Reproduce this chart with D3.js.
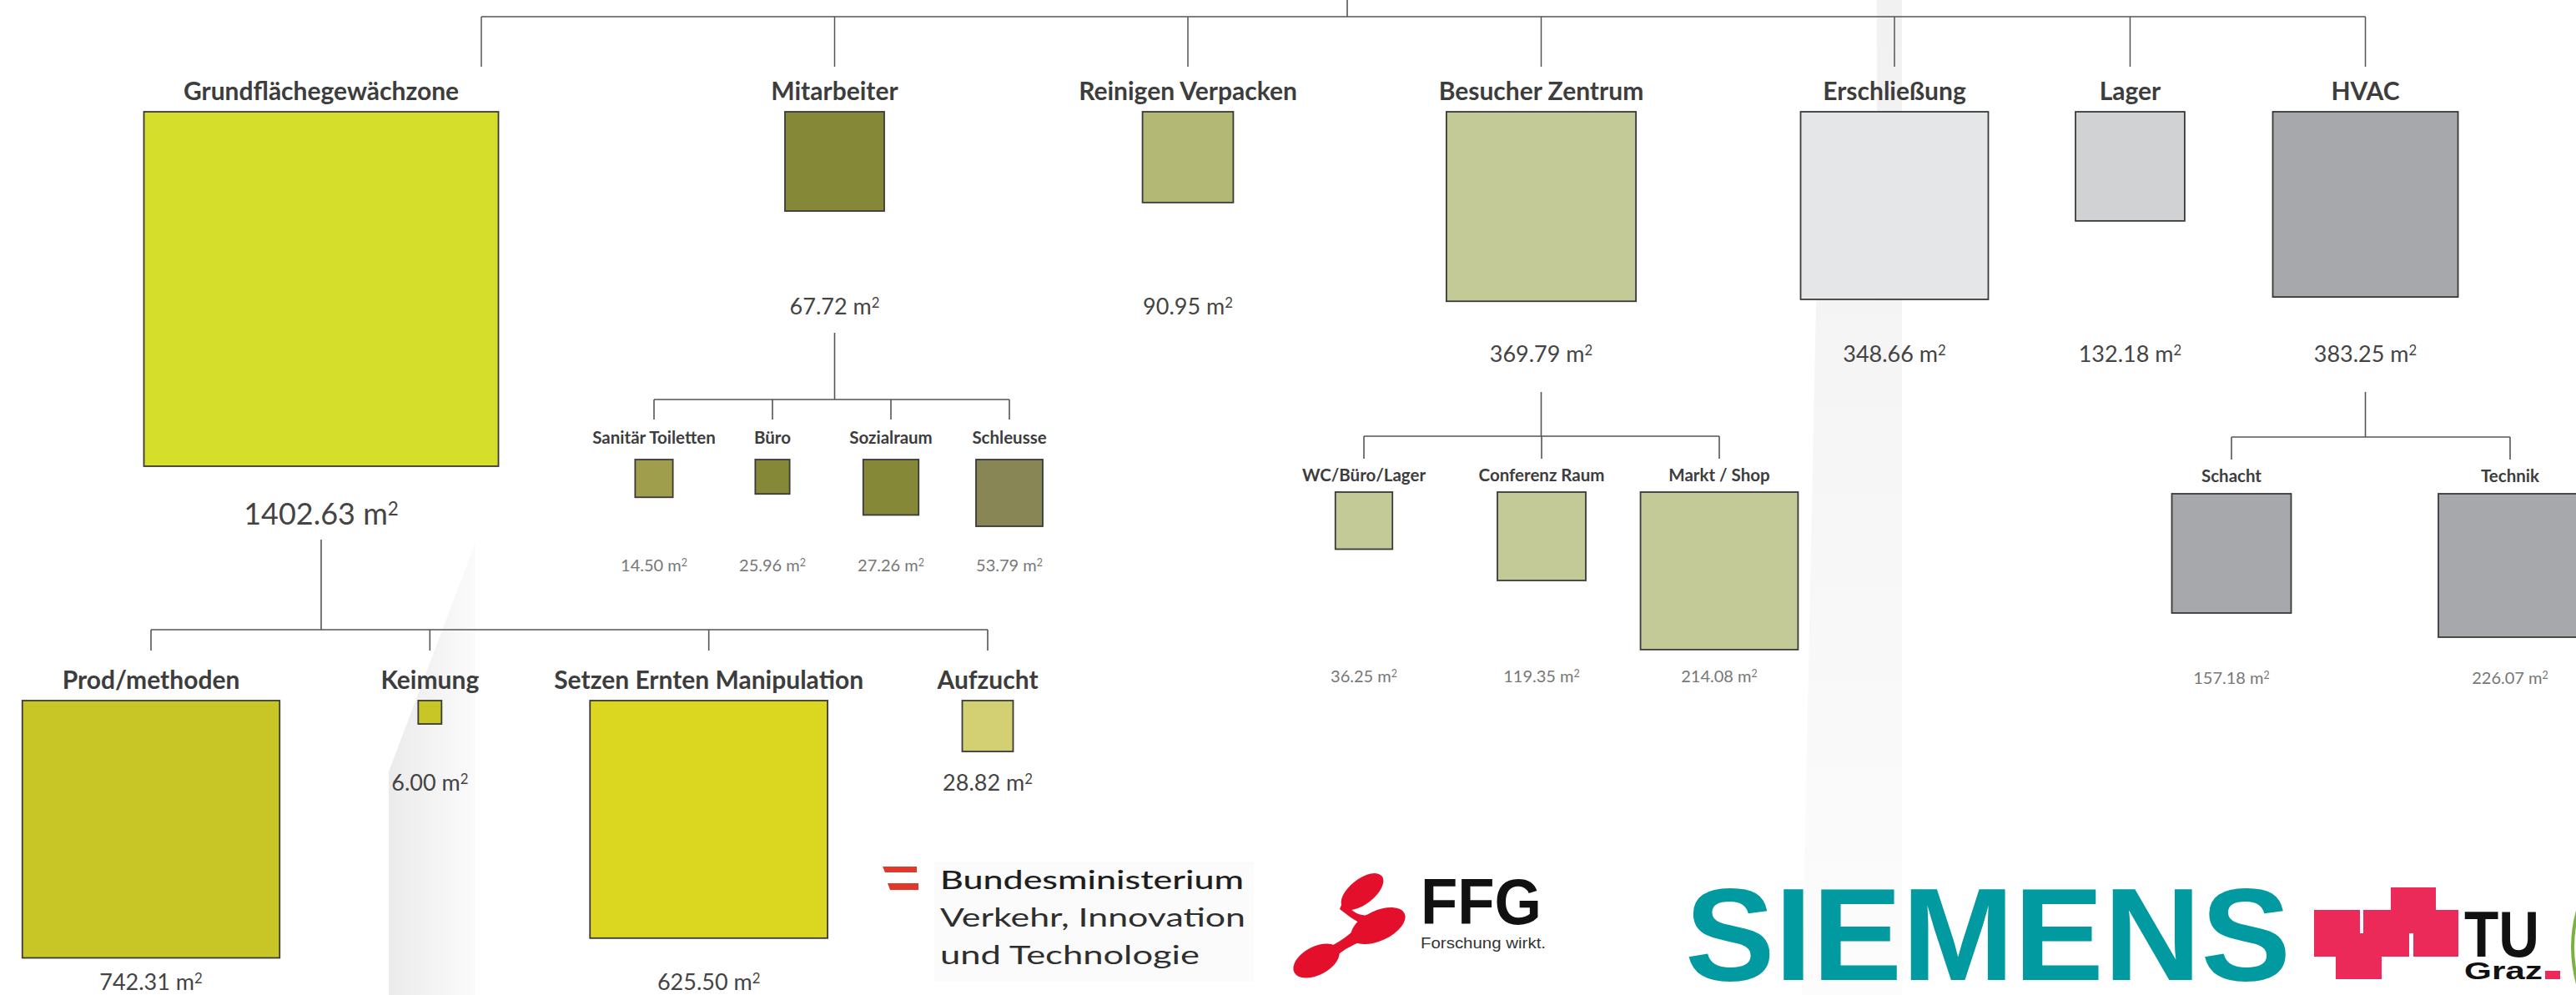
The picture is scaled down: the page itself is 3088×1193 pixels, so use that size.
<!DOCTYPE html>
<html>
<head>
<meta charset="utf-8">
<script src="https://cdn.jsdelivr.net/npm/d3@7"></script>
<style>
  body { margin: 0; background: #fff; }
  svg { display: block; font-family: Lato, "Source Sans Pro", "Open Sans", sans-serif; }
</style>
</head>
<body>
<svg></svg>
<script>
// ---- data (m²) ----
// top level rooms
const groupNames  = ["Grundflächegewächzone", "Mitarbeiter", "Reinigen Verpacken", "Besucher Zentrum", "Erschließung", "Lager", "HVAC"];
const groupValues = [1402.63, 67.72, 90.95, 369.79, 348.66, 132.18, 383.25];
// area the square actually shows in the picture (not always equal to the label)
const groupShown  = [1402.63, 110.0, 92.0, 401.0, 393.0, 133.0, 383.0];
const groupColors = ["#d5de2b", "#858837", "#b3b874", "#c3ca98", "#e5e6e8", "#d1d2d4", "#a7a8ab"];

// Grundflächegewächzone
const grundNames  = ["Prod/methoden", "Keimung", "Setzen Ernten Manipulation", "Aufzucht"];
const grundValues = [742.31, 6.00, 625.50, 28.82];
const grundShown  = [739.0, 6.1, 630.0, 28.9];
const grundColors = ["#c8c626", "#c8c626", "#dbd61f", "#d3cf73"];

// Mitarbeiter
const mitNames  = ["Sanitär Toiletten", "Büro", "Sozialraum", "Schleusse"];
const mitValues = [14.50, 25.96, 27.26, 53.79];
const mitShown  = [15.9, 13.2, 34.3, 49.7];
const mitColors = ["#9f9e4c", "#858837", "#858837", "#898656"];

// Besucher Zentrum
const besNames  = ["WC/Büro/Lager", "Conferenz Raum", "Markt / Shop"];
const besValues = [36.25, 119.35, 214.08];
const besShown  = [36.4, 87.2, 277.0];
const besColors = ["#c3ca98", "#c3ca98", "#c3ca98"];

// HVAC
const hvacNames  = ["Schacht", "Technik"];
const hvacValues = [157.18, 226.07];
const hvacShown  = [158.8, 229.7];
const hvacColors = ["#a7a8ab", "#a7a8ab"];

// ---- layout ----
const width = 3088, height = 1193;
const svg = d3.select("svg").attr("width", width).attr("height", height);

// square side from area
const side = d3.scaleSqrt().domain([0, 1402.63]).range([0, 425]);

// top level columns (last two use a narrower step)
const colSlot = [0, 1, 2, 3, 4, 4.667, 5.333];
const xTop = d3.scaleLinear().domain([0, 4]).range([577, 2271]);
const rootX = 1615;
// the first node sits left of its drop line
const grundCenterX = 385;

const lineColor = "#555";

// faint background sheen (from the photo behind the chart)
const defs = svg.append("defs");
const sheen = defs.append("linearGradient").attr("id", "sheen").attr("x1", "0%").attr("x2", "100%");
sheen.append("stop").attr("offset", "0%").attr("stop-color", "#ebebeb");
sheen.append("stop").attr("offset", "100%").attr("stop-color", "#fbfbfb");
const sheenV = defs.append("linearGradient").attr("id", "sheenV").attr("x1", "0%").attr("x2", "0%").attr("y2", "100%");
sheenV.append("stop").attr("offset", "0%").attr("stop-color", "#f1f1f1");
sheenV.append("stop").attr("offset", "100%").attr("stop-color", "#fcfcfc");

const bg = svg.append("g");
bg.append("path").attr("d", "M570,650 L466,925 L466,1193 L570,1193 Z").attr("fill", "url(#sheen)");
bg.append("path").attr("d", "M2250,0 L2280,0 L2280,1193 L2160,1193 L2177,360 L2250,360 Z").attr("fill", "url(#sheenV)");

const chart = svg.append("g");

function line(x1, y1, x2, y2, w) {
  chart.append("line")
    .attr("x1", x1).attr("y1", y1).attr("x2", x2).attr("y2", y2)
    .attr("stroke", lineColor).attr("stroke-width", w || 1.6);
}

// bracket: stem from parent, horizontal bus, drops to children
function bracket(px, y0, busY, xs, dropY) {
  line(px, y0, px, busY);
  line(d3.min(xs), busY, d3.max(xs), busY);
  xs.forEach(x => line(x, busY, x, dropY));
}

function nodes(items, o) {
  const g = chart.append("g");
  g.selectAll(".name").data(items).enter().append("text")
    .attr("x", d => d.x).attr("y", o.nameY)
    .attr("text-anchor", "middle")
    .attr("font-size", o.nameSize).attr("font-weight", 700)
    .attr("fill", "#3d3d3d")
    .text(d => d.name);

  g.selectAll(".box").data(items).enter().append("rect")
    .attr("x", d => d.x - side(d.shown) / 2)
    .attr("y", o.boxY)
    .attr("width", d => side(d.shown))
    .attr("height", d => side(d.shown))
    .attr("fill", d => d.color)
    .attr("stroke", "#3a3a3a").attr("stroke-width", 1.8);

  const val = g.selectAll(".val").data(items).enter().append("text")
    .attr("x", d => d.x).attr("y", d => d.valueY)
    .attr("text-anchor", "middle")
    .attr("font-size", d => d.valueSize || o.valueSize)
    .attr("font-weight", o.valueWeight)
    .attr("fill", o.valueColor);
  val.append("tspan").text(d => d.value.toFixed(2) + " m");
  val.append("tspan").attr("dy", "-0.5em").attr("font-size", "0.62em").text("2");
}

function pack(names, values, shown, colors, xs, extra) {
  return names.map((n, i) => Object.assign({ name: n, value: values[i], shown: shown[i], color: colors[i], x: xs[i] }, extra ? extra(i) : {}));
}

// ---- top level ----
const dropX = colSlot.map(s => xTop(s));
const topX = dropX.map((x, i) => i === 0 ? grundCenterX : x);
line(rootX, 0, rootX, 20);
line(d3.min(dropX), 20, d3.max(dropX), 20);
dropX.forEach(x => line(x, 20, x, 80, 1.5));

const topValueY = [629, 377, 377, 434, 434, 434, 434];
nodes(pack(groupNames, groupValues, groupShown, groupColors, topX,
           i => ({ valueY: topValueY[i], valueSize: i === 0 ? 36 : 27 })),
      { nameY: 120, nameSize: 30, boxY: 134, valueSize: 27, valueWeight: 400, valueColor: "#444" });

// ---- Grundflächegewächzone children ----
const grundX = d3.range(grundNames.length).map(d3.scaleLinear().domain([0, 3]).range([181, 1184]));
bracket(topX[0], 647, 755, grundX, 780);
const grundValueY = [1187, 948, 1187, 948];
nodes(pack(grundNames, grundValues, grundShown, grundColors, grundX, i => ({ valueY: grundValueY[i] })),
      { nameY: 826, nameSize: 30, boxY: 840, valueSize: 27, valueWeight: 400, valueColor: "#444" });

// ---- Mitarbeiter children ----
const mitX = d3.range(mitNames.length).map(d3.scaleLinear().domain([0, 3]).range([784, 1210]));
bracket(topX[1], 399, 479, mitX, 503);
nodes(pack(mitNames, mitValues, mitShown, mitColors, mitX, () => ({ valueY: 685 })),
      { nameY: 532, nameSize: 20.5, boxY: 551, valueSize: 20, valueWeight: 400, valueColor: "#777" });

// ---- Besucher Zentrum children ----
const besX = d3.range(besNames.length).map(d3.scaleLinear().domain([0, 2]).range([1635, 2061]));
bracket(topX[3], 470, 523, besX, 550);
nodes(pack(besNames, besValues, besShown, besColors, besX, () => ({ valueY: 818 })),
      { nameY: 577, nameSize: 20.5, boxY: 590, valueSize: 20, valueWeight: 400, valueColor: "#777" });

// ---- HVAC children ----
const hvacX = d3.range(hvacNames.length).map(d3.scaleLinear().domain([0, 1]).range([2675, 3009]));
bracket(topX[6], 470, 524, hvacX, 551);
nodes(pack(hvacNames, hvacValues, hvacShown, hvacColors, hvacX, () => ({ valueY: 820 })),
      { nameY: 578, nameSize: 20.5, boxY: 592, valueSize: 20, valueWeight: 400, valueColor: "#777" });

// ---- sponsor logos ----
const logos = svg.append("g");

// Bundesministerium
logos.append("rect").attr("x", 1120).attr("y", 1033).attr("width", 383).attr("height", 144).attr("fill", "#fbfbfb");
logos.append("path").attr("d", "M1058,1039 L1099,1039 L1099,1046 L1061,1046 Z").attr("fill", "#e0392b");
logos.append("path").attr("d", "M1064,1059 L1101,1059 L1101,1067 L1067,1067 Z").attr("fill", "#e0392b");
const bm = [["Bundesministerium", 1066, 364, 500, "#1e1e1e"],
            ["Verkehr, Innovation", 1111, 366, 400, "#2e2e2e"],
            ["und Technologie", 1156, 311, 400, "#2e2e2e"]];
logos.selectAll(".bm").data(bm).enter().append("text")
  .attr("x", 1127).attr("y", d => d[1])
  .attr("font-size", 30).attr("font-weight", d => d[3]).attr("fill", d => d[4])
  .attr("textLength", d => d[2]).attr("lengthAdjust", "spacingAndGlyphs")
  .text(d => d[0]);

// FFG
const ffg = logos.append("g").attr("fill", "#e4102b");
ffg.append("ellipse").attr("cx", 1633).attr("cy", 1069).attr("rx", 30).attr("ry", 15).attr("transform", "rotate(-38 1633 1069)");
ffg.append("ellipse").attr("cx", 1652).attr("cy", 1110).attr("rx", 35).attr("ry", 18).attr("transform", "rotate(-25 1652 1110)");
ffg.append("ellipse").attr("cx", 1578).attr("cy", 1152).attr("rx", 30).attr("ry", 17).attr("transform", "rotate(-28 1578 1152)");
ffg.append("path").attr("d", "M1610,1080 Q1625,1100 1640,1097 L1632,1108 Q1618,1100 1606,1090 Z");
ffg.append("path").attr("d", "M1620,1118 L1634,1128 Q1612,1136 1598,1150 L1588,1138 Q1606,1130 1620,1118 Z");
logos.append("text").attr("x", 1703).attr("y", 1108)
  .attr("font-family", "Liberation Sans, Arial, sans-serif").attr("font-weight", 700).attr("font-size", 78)
  .attr("textLength", 145).attr("lengthAdjust", "spacingAndGlyphs").attr("fill", "#111").text("FFG");
logos.append("text").attr("x", 1703).attr("y", 1137)
  .attr("font-family", "Liberation Sans, Arial, sans-serif").attr("font-size", 18)
  .attr("textLength", 150).attr("lengthAdjust", "spacingAndGlyphs").attr("fill", "#333").text("Forschung wirkt.");

// SIEMENS
logos.append("text").attr("x", 2020).attr("y", 1175)
  .attr("font-family", "Liberation Sans, Arial, sans-serif").attr("font-weight", 700).attr("font-size", 158)
  .attr("textLength", 726).attr("lengthAdjust", "spacingAndGlyphs").attr("fill", "#009aa0").text("SIEMENS");

// TU Graz
const tuBlocks = [[2774, 1091, 2829, 1147], [2833, 1091, 2947, 1119], [2829, 1119, 2888, 1147],
                  [2893, 1119, 2947, 1147], [2866, 1064, 2920, 1091], [2800, 1147, 2855, 1174]];
logos.selectAll(".tu").data(tuBlocks).enter().append("rect")
  .attr("x", d => d[0]).attr("y", d => d[1])
  .attr("width", d => d[2] - d[0]).attr("height", d => d[3] - d[1])
  .attr("fill", "#ec2a5a");
logos.append("text").attr("x", 2954).attr("y", 1147)
  .attr("font-family", "Liberation Sans, Arial, sans-serif").attr("font-weight", 700).attr("font-size", 78)
  .attr("textLength", 90).attr("lengthAdjust", "spacingAndGlyphs").attr("fill", "#111").text("TU");
logos.append("text").attr("x", 2954).attr("y", 1174)
  .attr("font-family", "Liberation Sans, Arial, sans-serif").attr("font-weight", 700).attr("font-size", 29)
  .attr("textLength", 94).attr("lengthAdjust", "spacingAndGlyphs").attr("fill", "#111").text("Graz");
logos.append("rect").attr("x", 3051).attr("y", 1164).attr("width", 18).attr("height", 10).attr("fill", "#ec2a5a");
logos.append("path").attr("d", "M3090,1092 Q3078,1135 3090,1180").attr("fill", "none")
  .attr("stroke", "#7bb043").attr("stroke-width", 4);
</script>
</body>
</html>
